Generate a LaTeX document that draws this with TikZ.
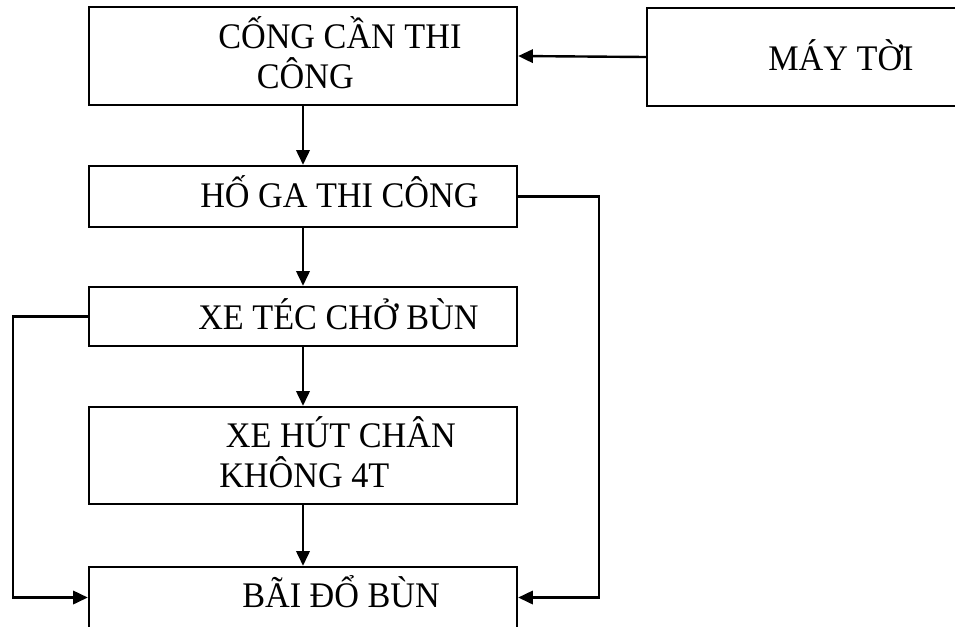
\documentclass[tikz,border=0pt]{standalone}
\usepackage{fontspec}
\setmainfont{Liberation Serif}[FakeStretch=0.95]
\usetikzlibrary{arrows.meta}

\tikzset{
  box/.style={draw, line width=1.8pt, minimum width=321pt, inner sep=0pt},
  lbl/.style={anchor=base west, inner sep=0pt, align=left, font=\fontsize{27}{30}\selectfont},
  flow/.style={line width=1.8pt, -{Triangle[length=11pt,width=10pt]}}
}

\begin{document}
\begin{tikzpicture}[
    x=0.75pt,
    y=-0.75pt]
    \useasboundingbox (0,0) rectangle (955,626);

    % Boxes
    \node[box, minimum height=73.5pt] (congcan) at (303,56) {};
    \node[box, minimum width=257pt, minimum height=73.5pt] (maytoi) at (818.5,57) {};
    \node[box, minimum height=45.75pt] (hoga) at (303,196.5) {};
    \node[box, minimum height=44.25pt] (xetec) at (303,316.5) {};
    \node[box, minimum height=72.75pt] (xehut) at (303,455.5) {};
    \node[box, minimum height=45.75pt] (baido) at (303,597.5) {};

    % Labels (base = last line)
    \node[lbl] (tcongcan) at (218,88) {CỐNG CẦN THI\\\hspace*{29pt}CÔNG};
    \node[lbl] (tmaytoi) at (768,70) {MÁY TỜI};
    \node[lbl] (thoga) at (200,207) {HỐ GA THI CÔNG};
    \node[lbl] (txetec) at (198,329) {XE TÉC CHỞ BÙN};
    \node[lbl] (txehut) at (219,487) {\hspace*{5pt}XE HÚT CHÂN\\KHÔNG 4T};
    \node[lbl] (tbaido) at (242,607) {BÃI ĐỔ BÙN};

    % Main flow
    \draw[flow] (maytoi.west) -- (congcan.east);
    \draw[flow] (congcan.south) -- (hoga.north);
    \draw[flow] (hoga.south) -- (xetec.north);
    \draw[flow] (xetec.south) -- (xehut.north);
    \draw[flow] (xehut.south) -- (baido.north);

    % Side routes to the dump
    \draw[flow] (hoga.east) -- ++(81,0) |- (baido.east);
    \draw[flow] (xetec.west) -- ++(-75,0) |- (baido.west);
\end{tikzpicture}
\end{document}
